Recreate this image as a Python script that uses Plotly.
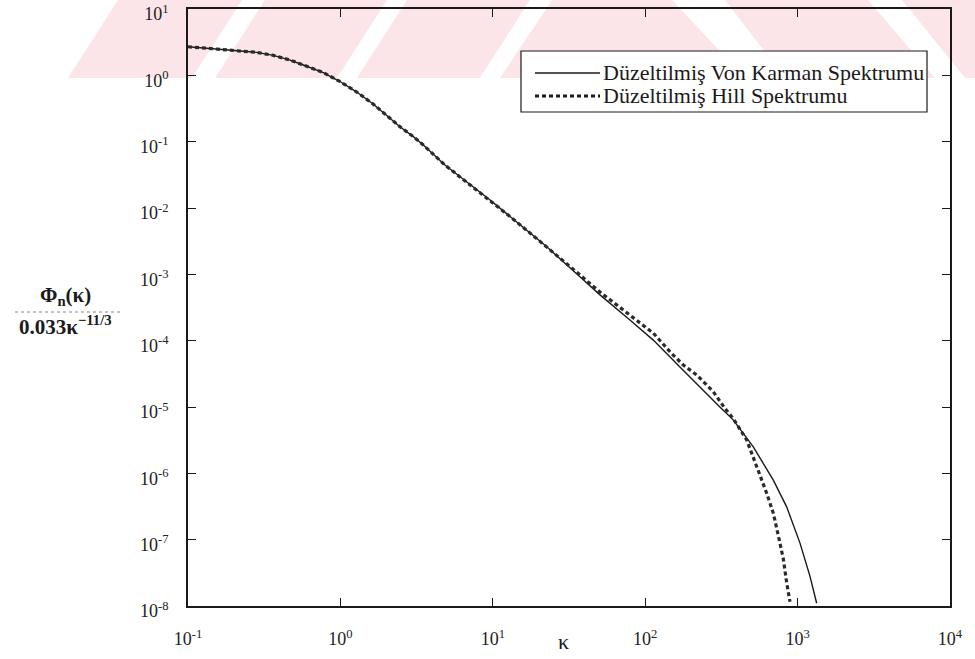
import plotly.graph_objects as go

# Normalised spectra Phi_n(kappa) / (0.033 kappa^-11/3)
kappa_vk = [0.1, 0.154, 0.219, 0.282, 0.363, 0.467, 0.571, 0.773, 1.0, 1.28,
            1.64, 2.01, 2.46, 3.01, 3.50, 4.85, 6.9, 9.6, 13.4, 17.1,
            22.6, 37.3, 50.5, 79.4, 113, 169, 218, 309, 378,
            512, 693, 849, 1038, 1206, 1334]
phi_vk = [2.70, 2.50, 2.37, 2.22, 2.00, 1.70, 1.43, 1.10, 0.80, 0.56,
          0.37, 0.25, 0.168, 0.119, 0.089, 0.0445, 0.0236, 0.0132, 0.0070, 0.0044,
          0.0026, 9.2e-4, 4.9e-4, 2.05e-4, 1.02e-4, 4.0e-5, 2.2e-5, 1.0e-5, 6.4e-6,
          2.5e-6, 7.9e-7, 3.1e-7, 8.8e-8, 2.8e-8, 1.1e-8]

kappa_hill = [0.1, 0.154, 0.219, 0.282, 0.363, 0.467, 0.571, 0.773, 1.0, 1.28,
              1.64, 2.01, 2.46, 3.01, 3.50, 4.85, 6.9, 9.6, 13.4, 17.1,
              22.6, 37.3, 50.5, 79.4, 113, 149, 178, 218, 280, 334,
              378, 463, 525, 566, 627, 693, 746, 805, 849, 891]
phi_hill = [2.70, 2.50, 2.37, 2.22, 2.00, 1.70, 1.43, 1.10, 0.80, 0.56,
            0.37, 0.25, 0.168, 0.119, 0.089, 0.0445, 0.0236, 0.0132, 0.0070, 0.0044,
            0.0026, 9.8e-4, 5.4e-4, 2.43e-4, 1.30e-4, 6.4e-5, 4.3e-5, 3.03e-5, 1.70e-5, 9.5e-6,
            6.7e-6, 3.2e-6, 1.42e-6, 9.4e-7, 5.0e-7, 2.5e-7, 1.17e-7, 5.2e-8, 2.2e-8, 1.16e-8]

x_tick_vals = [0.1, 1, 10, 100, 1000, 10000]
x_tick_text = ["10<sup>-1</sup>", "10<sup>0</sup>", "10<sup>1</sup>",
               "10<sup>2</sup>", "10<sup>3</sup>", "10<sup>4</sup>"]
y_tick_vals = [10.0, 1.0, 1e-1, 1e-2, 1e-3, 1e-4, 1e-5, 1e-6, 1e-7, 1e-8]
y_tick_text = ["10<sup>1</sup>", "10<sup>0</sup>", "10<sup>-1</sup>", "10<sup>-2</sup>",
               "10<sup>-3</sup>", "10<sup>-4</sup>", "10<sup>-5</sup>", "10<sup>-6</sup>",
               "10<sup>-7</sup>", "10<sup>-8</sup>"]

legend_labels = ["Düzeltilmiş Von Karman Spektrumu", "Düzeltilmiş Hill Spektrumu"]

W, H = 975, 659
ML, MR, MT, MB = 188, 25, 9, 53
SERIF = "Liberation Serif, Times New Roman, serif"
INK = "#1a1a1a"
DOTS = "4px,3px"


def paper(px, py):
    """Convert page pixels to paper coordinates for decorations."""
    return (px - ML) / (W - ML - MR), 1 - (py - MT) / (H - MT - MB)


def poly(points):
    pts = [paper(x, y) for x, y in points]
    return "M " + " L ".join(f"{x:.4f},{y:.4f}" for x, y in pts) + " Z"


fig = go.Figure()
fig.add_trace(go.Scatter(x=kappa_vk, y=phi_vk, mode="lines", name=legend_labels[0],
                         line=dict(color=INK, width=1.4), showlegend=False))
fig.add_trace(go.Scatter(x=kappa_hill, y=phi_hill, mode="lines", name=legend_labels[1],
                         line=dict(color="#2a2a2a", width=3.2, dash=DOTS), showlegend=False))

shapes = []
# faint pink diagonal band across the top of the page
pink = "rgb(252,229,232)"
bands = [
    [(68, 78), (192, 78), (242, 0), (118, 0)],
    [(215, 78), (337, 78), (387, 0), (265, 0)],
    [(357, 78), (480, 78), (530, 0), (407, 0)],
    [(500, 78), (745, 78), (672, 0), (552, 0)],
    [(785, 78), (935, 78), (868, 0), (725, 0)],
    [(965, 78), (975, 78), (975, 0), (902, 0)],
]
for b in bands:
    shapes.append(dict(type="path", path=poly(b), xref="paper", yref="paper",
                       fillcolor=pink, line=dict(width=0), layer="below"))

# legend box with line samples
x0, y0 = paper(521, 51)
x1, y1 = paper(927, 112)
shapes.append(dict(type="rect", xref="paper", yref="paper", x0=x0, y0=y0, x1=x1, y1=y1,
                   line=dict(color=INK, width=1.2), fillcolor="white", layer="above"))
sample_rows = [73, 96]
for i, row in enumerate(sample_rows):
    sx0, sy = paper(535, row)
    sx1, _ = paper(600, row)
    shapes.append(dict(type="line", xref="paper", yref="paper", x0=sx0, x1=sx1, y0=sy, y1=sy,
                       line=dict(color=INK, width=1.6 if i == 0 else 3.2,
                                 dash="solid" if i == 0 else DOTS), layer="above"))

# fraction bar of the y-axis label
fx0, fy = paper(15, 312)
fx1, _ = paper(122, 312)
shapes.append(dict(type="line", xref="paper", yref="paper", x0=fx0, x1=fx1, y0=fy, y1=fy,
                   line=dict(color="#888", width=1, dash="dot")))

annotations = []
for label, row in zip(legend_labels, sample_rows):
    ax, ay = paper(601, row)
    annotations.append(dict(text=label, x=ax, y=ay, xref="paper", yref="paper",
                            xanchor="left", yanchor="middle", showarrow=False,
                            font=dict(family=SERIF, size=22, color=INK)))

kx, ky = paper(563, 641)
annotations.append(dict(text="κ", x=kx, y=ky, xref="paper", yref="paper",
                        xanchor="center", yanchor="middle",
                        showarrow=False, font=dict(family=SERIF, size=22, color=INK)))
nx, ny = paper(66, 296)
annotations.append(dict(text="<b>Φ<sub>n</sub>(κ)</b>", x=nx, y=ny, xref="paper", yref="paper",
                        xanchor="center", yanchor="middle",
                        showarrow=False, font=dict(family=SERIF, size=21, color=INK)))
dx, dy = paper(65, 325)
annotations.append(dict(text="<b>0.033κ<sup>−11/3</sup></b>", x=dx, y=dy, xref="paper",
                        yref="paper", xanchor="center", yanchor="middle", showarrow=False,
                        font=dict(family=SERIF, size=21, color=INK)))

axis_common = dict(type="log", showline=True, linecolor=INK, linewidth=1.6, mirror="ticks",
                   ticks="inside", ticklen=8, tickwidth=1.2, tickcolor=INK,
                   showgrid=False, zeroline=False, ticklabeloverflow="allow",
                   automargin=False,
                   tickfont=dict(family=SERIF, size=18, color="#222"))

fig.update_layout(
    width=W, height=H, autosize=False,
    margin=dict(l=ML, r=MR, t=MT, b=MB),
    paper_bgcolor="white", plot_bgcolor="rgba(0,0,0,0)",
    xaxis=dict(range=[-1, 4], tickvals=x_tick_vals, ticktext=x_tick_text,
               ticklabelstandoff=16, **axis_common),
    yaxis=dict(range=[-8, 1], tickvals=y_tick_vals, ticktext=y_tick_text,
               ticklabelstandoff=14, ticklabelshift=5, **axis_common),
    shapes=shapes, annotations=annotations, showlegend=False,
)

fig.write_html("out.html")
